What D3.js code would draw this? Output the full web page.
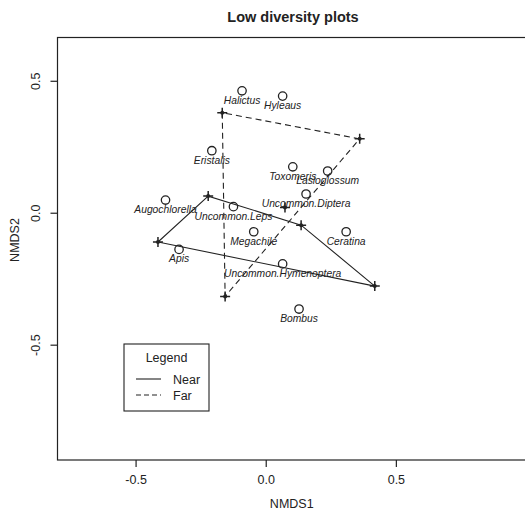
<!DOCTYPE html>
<html>
<head>
<meta charset="utf-8">
<script src="https://cdn.jsdelivr.net/npm/d3@7"></script>
<style>
  body { margin: 0; background: #fff; }
  text { font-family: "Liberation Sans", Arial, sans-serif; fill: #222; }
</style>
</head>
<body>
<div id="vis"></div>
<script>
const WIDTH = 525;
const HEIGHT = 512;
const MARGINS = {left: 57.5, right: -1, top: 37.5, bottom: 52};

// species scores (circles)
const species = ["Halictus", "Hyleaus", "Eristalis", "Augochlorella", "Uncommon.Leps",
  "Megachile", "Apis", "Uncommon.Hymenoptera", "Toxomeris", "Lasioglossum",
  "Uncommon.Diptera", "Ceratina", "Bombus"];
const speciesX = [-0.091, 0.065, -0.207, -0.385, -0.124, -0.046, -0.333, 0.065, 0.104, 0.238, 0.155, 0.309, 0.128];
const speciesY = [0.462, 0.442, 0.235, 0.048, 0.023, -0.072, -0.139, -0.194, 0.174, 0.158, 0.071, -0.072, -0.365];

// site scores (crosses) and their group
const siteX = [-0.221, -0.414, 0.136, 0.419, -0.167, 0.361, -0.156, 0.074];
const siteY = [0.063, -0.111, -0.047, -0.278, 0.379, 0.280, -0.317, 0.020];
const siteGroup = ["Near", "Near", "Near", "Near", "Far", "Far", "Far", "Far"];

const groups = ["Near", "Far"];
const dashes = {Near: null, Far: "6,4"};
const ticks = [-0.5, 0.0, 0.5];

const svg = d3.select("#vis").append("svg")
  .attr("width", WIDTH)
  .attr("height", HEIGHT);

const x = d3.scaleLinear().domain([-0.8, 1.0]).range([MARGINS.left, WIDTH - MARGINS.right]);
const y = d3.scaleLinear().domain([-0.937, 0.664]).range([HEIGHT - MARGINS.bottom, MARGINS.top]);

// plot box
svg.append("rect")
  .attr("x", x(-0.8)).attr("y", y(0.664))
  .attr("width", x(1.0) - x(-0.8)).attr("height", y(-0.937) - y(0.664))
  .attr("fill", "none").attr("stroke", "#222").attr("stroke-width", 1.2);

// axes
const fmt = d => d3.format(".1f")(d).replace("−", "-");
const xAxis = svg.append("g")
  .attr("transform", `translate(0,${y(-0.937)})`)
  .call(d3.axisBottom(x).tickValues(ticks).tickFormat(fmt).tickSize(7).tickPadding(8));
const yAxis = svg.append("g")
  .attr("transform", `translate(${x(-0.8)},0)`)
  .call(d3.axisLeft(y).tickValues(ticks).tickFormat(fmt).tickSize(7));
[xAxis, yAxis].forEach(g => {
  g.select(".domain").remove();
  g.selectAll("line").attr("stroke", "#222").attr("stroke-width", 1.2);
  g.selectAll("text").attr("font-size", 12.5).attr("font-family", "Liberation Sans, Arial, sans-serif").attr("fill", "#222");
});
yAxis.selectAll(".tick text")
  .attr("x", null).attr("dy", null)
  .attr("text-anchor", "middle")
  .attr("transform", "translate(-18,0) rotate(-90)");

// titles
svg.append("text").attr("x", 293).attr("y", 22)
  .attr("text-anchor", "middle").attr("font-size", 14.5).attr("font-weight", "bold")
  .text("Low diversity plots");
svg.append("text").attr("x", (x(-0.8) + x(1.0)) / 2).attr("y", 508)
  .attr("text-anchor", "middle").attr("font-size", 12.5).text("NMDS1");
svg.append("text").attr("transform", `translate(19,240) rotate(-90)`)
  .attr("text-anchor", "middle").attr("font-size", 12.5).text("NMDS2");

// hulls
const line = d3.line();
groups.forEach(g => {
  const pts = siteX.map((sx, i) => [x(sx), y(siteY[i])]).filter((p, i) => siteGroup[i] === g);
  const hull = d3.polygonHull(pts);
  svg.append("path")
    .attr("d", line(hull) + "Z")
    .attr("fill", "none")
    .attr("stroke", "#222")
    .attr("stroke-width", 1.1)
    .attr("stroke-dasharray", dashes[g]);
});

// site crosses
const crosses = svg.append("g").selectAll("g")
  .data(siteX.map((sx, i) => ({x: sx, y: siteY[i]})))
  .enter().append("g")
  .attr("transform", d => `translate(${x(d.x)},${y(d.y)})`);
crosses.append("path")
  .attr("d", "M-5,0H5M0,-5V5")
  .attr("stroke", "#222").attr("stroke-width", 1.5);
crosses.append("circle").attr("r", 2).attr("fill", "#222");

// species points and labels
const sp = species.map((name, i) => ({name: name, x: speciesX[i], y: speciesY[i]}));
svg.append("g").selectAll("circle")
  .data(sp).enter().append("circle")
  .attr("cx", d => x(d.x)).attr("cy", d => y(d.y))
  .attr("r", 4.2)
  .attr("fill", "none").attr("stroke", "#222").attr("stroke-width", 1.3);
svg.append("g").selectAll("text")
  .data(sp).enter().append("text")
  .attr("x", d => x(d.x)).attr("y", d => y(d.y) + 13)
  .attr("text-anchor", "middle")
  .attr("font-size", 10.3).attr("font-style", "italic")
  .text(d => d.name);

// legend
const legend = svg.append("g").attr("transform", "translate(124,344)");
legend.append("rect").attr("width", 85).attr("height", 67)
  .attr("fill", "#fff").attr("stroke", "#222").attr("stroke-width", 1.1);
legend.append("text").attr("x", 42.5).attr("y", 18).attr("text-anchor", "middle")
  .attr("font-size", 12.5).text("Legend");
groups.forEach((g, i) => {
  legend.append("line")
    .attr("x1", 12).attr("x2", 37).attr("y1", 35 + i * 16).attr("y2", 35 + i * 16)
    .attr("stroke", "#222").attr("stroke-width", 1.1)
    .attr("stroke-dasharray", g === "Far" ? "5,3" : null);
  legend.append("text").attr("x", 49).attr("y", 39.5 + i * 16)
    .attr("font-size", 12.5).text(g);
});
</script>
</body>
</html>
